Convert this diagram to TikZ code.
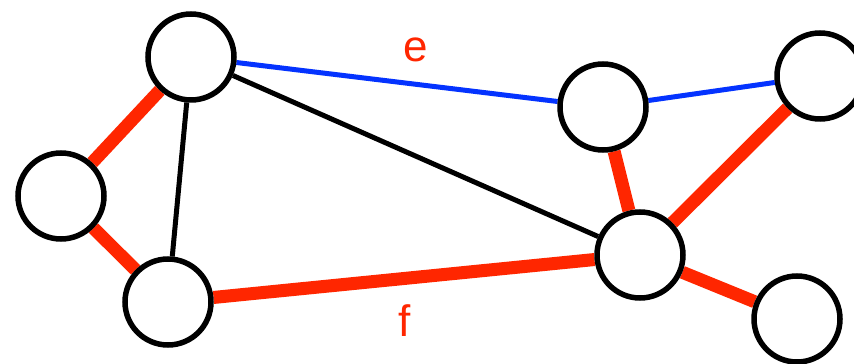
\documentclass[tikz,border=0pt]{standalone}
\usepackage{fontspec}
\setmainfont{Liberation Sans}
\usetikzlibrary{backgrounds}
\definecolor{ered}{HTML}{FF2600}
\definecolor{eblue}{HTML}{0433FF}
\begin{document}
\begin{tikzpicture}[x=1pt,y=1pt,
  vtx/.style={circle,draw=black,line width=5.5pt,fill=white,minimum size=86pt,inner sep=0pt},
  redge/.style={draw=ered,line width=13pt},
  bedge/.style={draw=eblue,line width=5pt},
  kedge/.style={draw=black,line width=5pt},
  lbl/.style={text=ered,font=\fontsize{44}{44}\selectfont}]
\useasboundingbox (0,0) rectangle (854,364);
\node[vtx] (A) at (191,307) {};
\node[vtx] (B) at (61,168) {};
\node[vtx] (C) at (168,62) {};
\node[vtx] (D) at (603,257) {};
\node[vtx] (E) at (820,288) {};
\node[vtx] (F) at (640,109) {};
\node[vtx] (G) at (797,45) {};
\begin{scope}[on background layer]
\draw[redge] (A) -- (B);
\draw[redge] (B) -- (C);
\draw[kedge] (A) -- (C);
\draw[bedge] (A) -- (D);
\draw[kedge] (A) -- (F);
\draw[bedge] (D) -- (E);
\draw[redge] (D) -- (F);
\draw[redge] (E) -- (F);
\draw[redge] (C) -- (F);
\draw[redge] (F) -- (G);
\end{scope}
\node[lbl] (le) at (416,314) {e};
\node[lbl] (lf) at (405,43) {f};
\end{tikzpicture}
\end{document}
